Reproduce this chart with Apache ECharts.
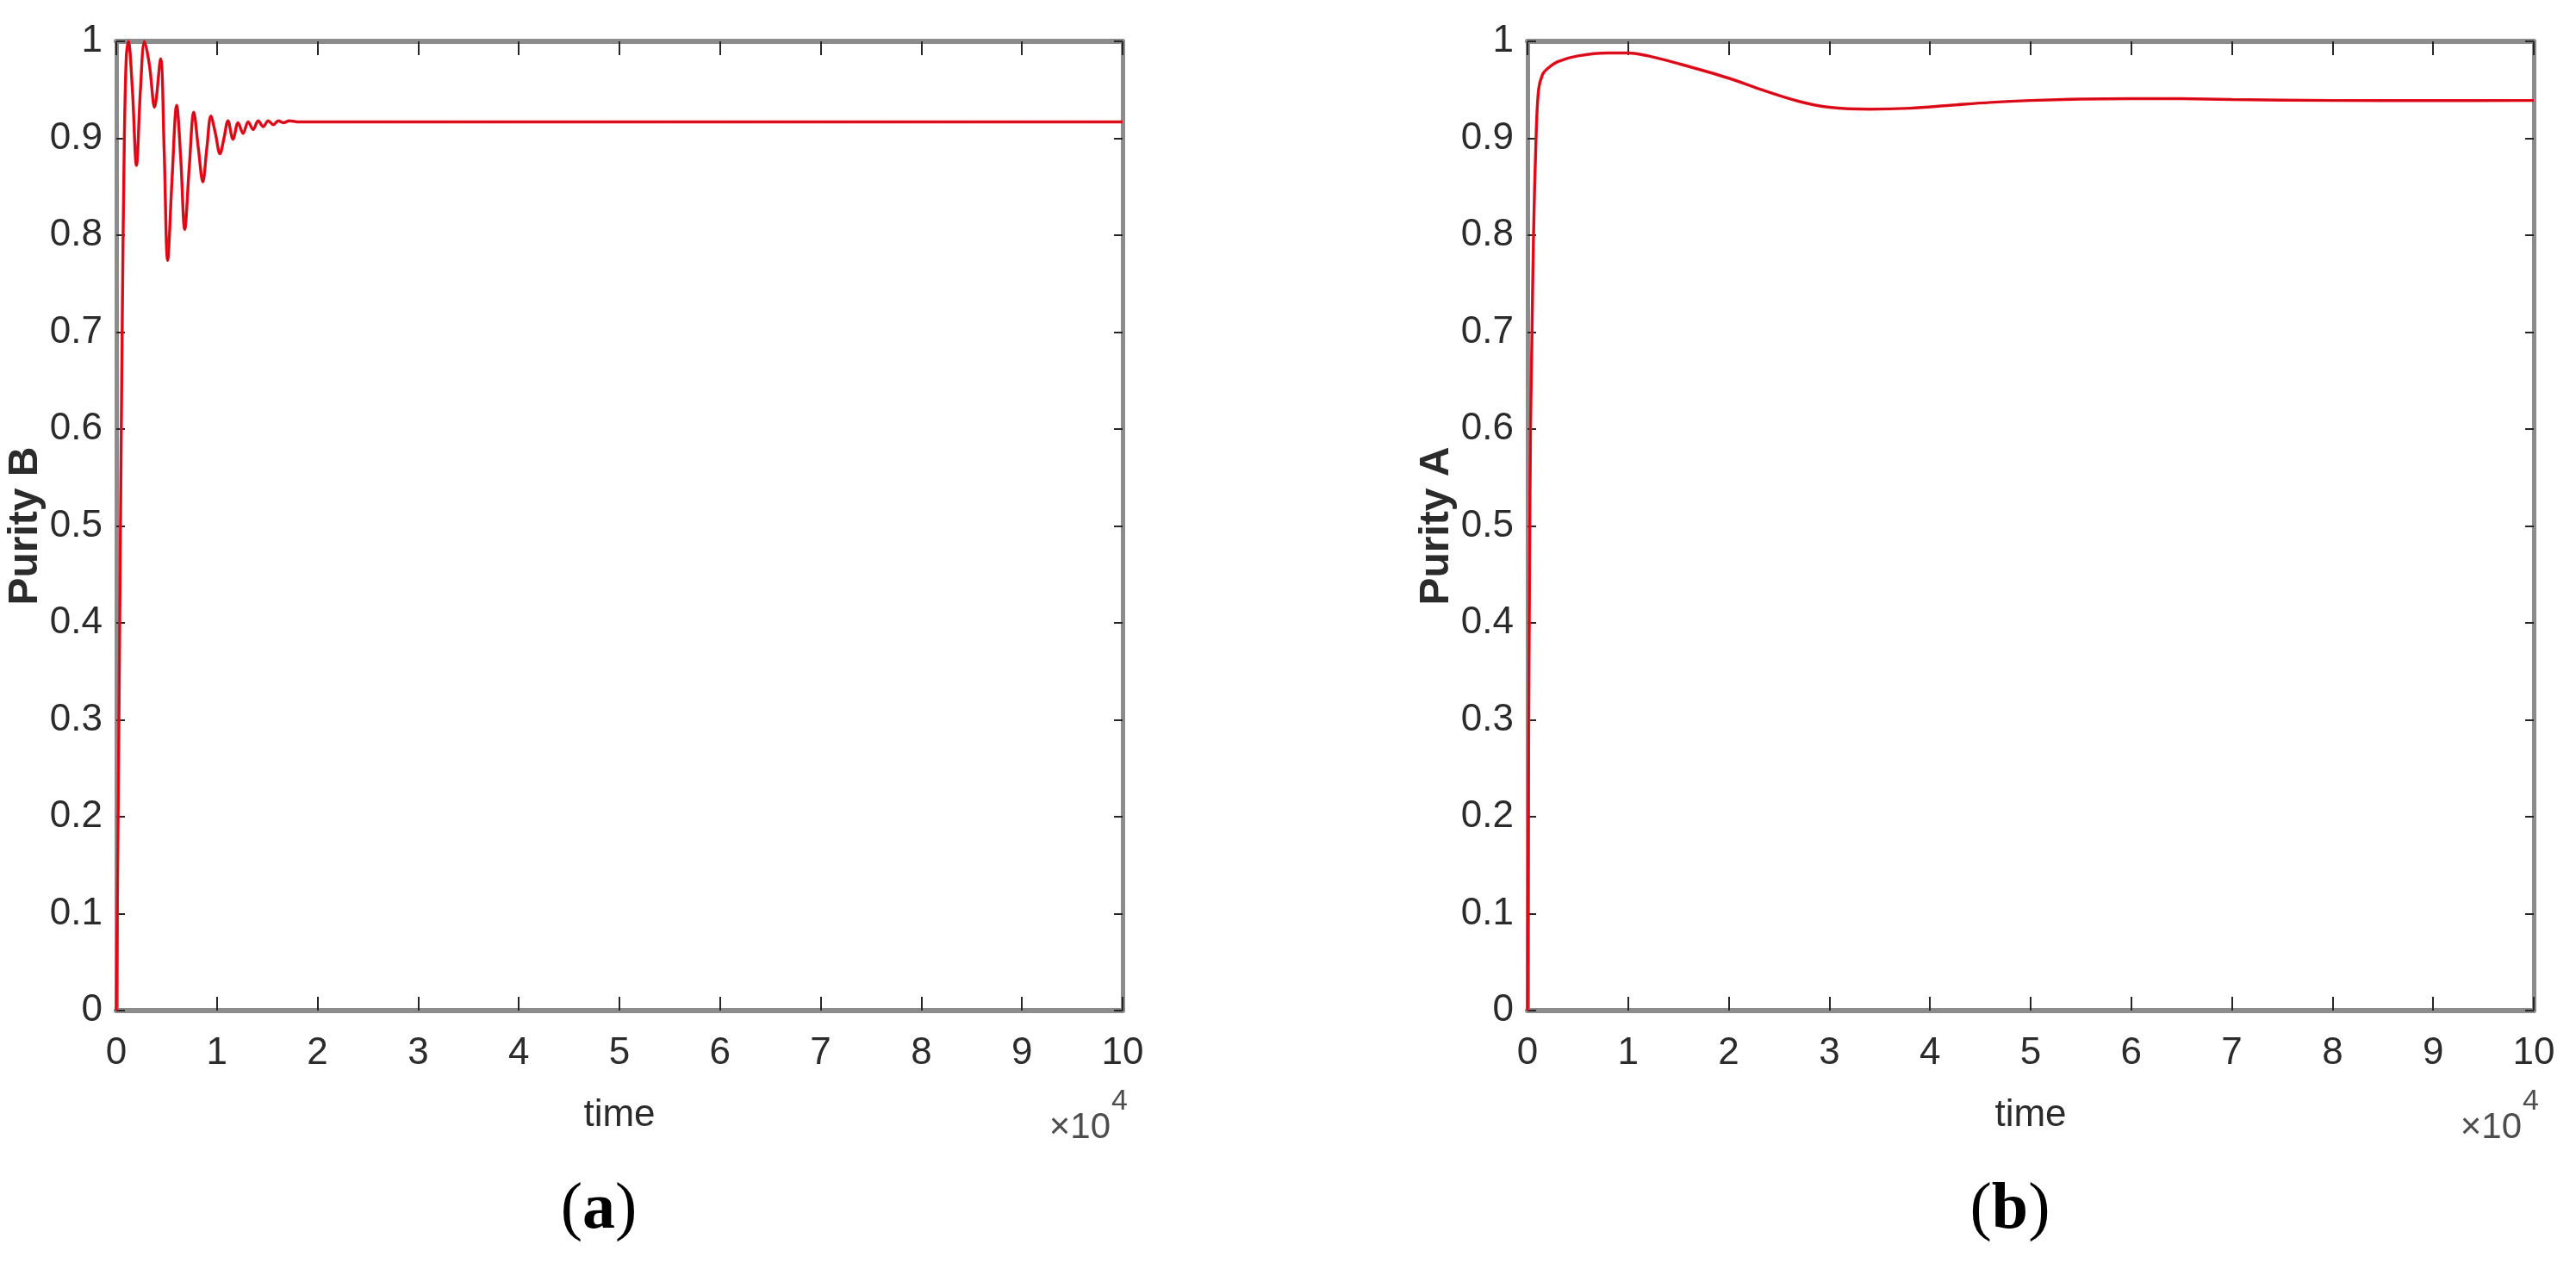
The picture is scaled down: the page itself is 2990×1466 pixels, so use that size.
<!DOCTYPE html>
<html>
<head>
<meta charset="utf-8">
<title>Purity</title>
<script src="https://cdn.jsdelivr.net/npm/echarts@6.0.0/dist/echarts.min.js"></script>
<style>
    html, body { margin: 0; padding: 0; background: #fff; }
    #chart { width: 2990px; height: 1466px; }
</style>
</head>
<body>
<div id="chart"></div>
<script>
// time is in seconds, the axis shows it in units of 10^4
var timeB = [0, 200, 400, 600, 800, 1000, 1200, 1600, 2000, 2400, 2800, 3300, 3800,
    4400, 4750, 5100, 5550, 6000, 6400, 6800, 7250, 7700, 8150, 8600, 9000,
    9400, 9850, 10300, 10700, 11100, 11600, 12100, 12600, 13100, 13600,
    14100, 14600, 15100, 15600, 16100, 16600, 17200, 18000,
    20000, 30000, 40000, 50000, 60000, 70000, 80000, 90000, 100000]
var purityB = [0, 0.22, 0.48, 0.72, 0.90, 0.985, 1.0, 0.95, 0.872, 0.95, 1.0, 0.975, 0.932,
    0.982, 0.89, 0.774, 0.86, 0.934, 0.88, 0.806, 0.87, 0.927, 0.89, 0.855, 0.89,
    0.923, 0.905, 0.884, 0.90, 0.918, 0.899, 0.916, 0.905, 0.917, 0.909,
    0.918, 0.912, 0.918, 0.914, 0.918, 0.916, 0.918, 0.917,
    0.917, 0.917, 0.917, 0.917, 0.917, 0.917, 0.917, 0.917, 0.917]

var timeA = [0, 100, 200, 300, 450, 600, 850, 1100, 1500, 2000,
    3000, 5000, 8000, 10000, 12000, 15000, 20000,
    23000, 27000, 30000, 34000, 38000, 42000, 46000, 50000,
    55000, 60000, 65000, 70000, 80000, 90000, 100000]
var purityA = [0, 0.25, 0.45, 0.6, 0.7, 0.8, 0.9, 0.95, 0.966, 0.972,
    0.979, 0.985, 0.988, 0.988, 0.985, 0.977, 0.962,
    0.951, 0.938, 0.932, 0.930, 0.931, 0.934, 0.937, 0.939,
    0.9405, 0.941, 0.9408, 0.940, 0.939, 0.9388, 0.939]

var yNames = ['Purity B', 'Purity A']
var panelTags = ['a', 'b']

var myChart = echarts.init(document.getElementById('chart'))

var boxGray = '#8c8c8c'
var tickDark = '#262626'
var textDark = '#2b2b2b'
var narrow = '"Liberation Sans Narrow", "Liberation Sans", Arial, sans-serif'
var plotLeft = [135, 1773]

function xAxes(g) {
    return [{
        type: 'value', gridIndex: g, position: 'bottom',
        min: 0, max: 100000, interval: 10000,
        name: 'time', nameLocation: 'middle', nameGap: 100,
        nameTextStyle: { fontSize: 44, color: textDark, fontFamily: narrow },
        axisLine: { onZero: false, lineStyle: { color: boxGray, width: 6 } },
        axisTick: { inside: true, length: 16, lineStyle: { color: tickDark, width: 2 } },
        axisLabel: {
            margin: 28, fontSize: 44, color: textDark, fontFamily: narrow,
            formatter: function (v) { return v / 10000 }
        },
        splitLine: { show: false }
    }, {
        type: 'value', gridIndex: g, position: 'top',
        min: 0, max: 100000, interval: 10000,
        axisLine: { onZero: false, lineStyle: { color: boxGray, width: 6 } },
        axisTick: { inside: true, length: 16, lineStyle: { color: tickDark, width: 2 } },
        axisLabel: { show: false },
        splitLine: { show: false }
    }]
}

function yAxes(g) {
    return [{
        type: 'value', gridIndex: g, position: 'left',
        min: 0, max: 1, interval: 0.1,
        name: yNames[g], nameLocation: 'middle', nameGap: 64,
        nameTextStyle: { fontSize: 48, fontWeight: 'bold', color: textDark, fontFamily: '"Liberation Sans", Arial, sans-serif' },
        axisLine: { onZero: false, lineStyle: { color: boxGray, width: 5 } },
        axisTick: { inside: true, length: 10, lineStyle: { color: tickDark, width: 2 } },
        axisLabel: { margin: 16, fontSize: 44, color: textDark, fontFamily: narrow },
        splitLine: { show: false }
    }, {
        type: 'value', gridIndex: g, position: 'right',
        min: 0, max: 1, interval: 0.1,
        axisLine: { onZero: false, lineStyle: { color: boxGray, width: 5 } },
        axisTick: { inside: true, length: 10, lineStyle: { color: tickDark, width: 2 } },
        axisLabel: { show: false },
        splitLine: { show: false }
    }]
}

function curve(g, times, values, color, width, opacity, z) {
    return {
        type: 'line', xAxisIndex: g * 2, yAxisIndex: g * 2,
        data: times.map(function (t, i) { return [t, values[i]] }),
        showSymbol: false, smooth: 0.35, z: z,
        lineStyle: { color: color, width: width, opacity: opacity }
    }
}

// ×10^4 exponent and the (a)/(b) tags
var extras = []
plotLeft.forEach(function (left, g) {
    extras.push({
        type: 'text', x: left + 1154, y: 1330,
        style: { text: '×10', font: '42px ' + narrow, fill: '#4d4d4d', align: 'right', verticalAlign: 'bottom' }
    })
    extras.push({
        type: 'text', x: left + 1155, y: 1262,
        style: { text: '4', font: '34px ' + narrow, fill: '#4d4d4d', align: 'left', verticalAlign: 'top' }
    })
    extras.push({
        type: 'text', x: left + 560, y: 1405,
        style: {
            text: '({b|' + panelTags[g] + '})',
            font: '76px "Liberation Serif", "DejaVu Serif", serif', fill: '#000',
            align: 'center', verticalAlign: 'middle',
            rich: { b: { font: 'bold 76px "Liberation Serif", "DejaVu Serif", serif', fill: '#000' } }
        }
    })
})

var option = {
    animation: false,
    backgroundColor: '#fff',
    grid: [
        { left: plotLeft[0], top: 48, width: 1168, height: 1125 },
        { left: plotLeft[1], top: 48, width: 1168, height: 1125 }
    ],
    xAxis: xAxes(0).concat(xAxes(1)),
    yAxis: yAxes(0).concat(yAxes(1)),
    series: [
        curve(0, timeB, purityB, '#f2101e', 3.5, 1, 3),
        curve(0, timeB, purityB, '#3a0a0c', 1, 0.35, 4),
        curve(1, timeA, purityA, '#f2101e', 3.5, 1, 3),
        curve(1, timeA, purityA, '#3a0a0c', 1, 0.35, 4)
    ],
    graphic: extras
}

myChart.setOption(option)
</script>
</body>
</html>
